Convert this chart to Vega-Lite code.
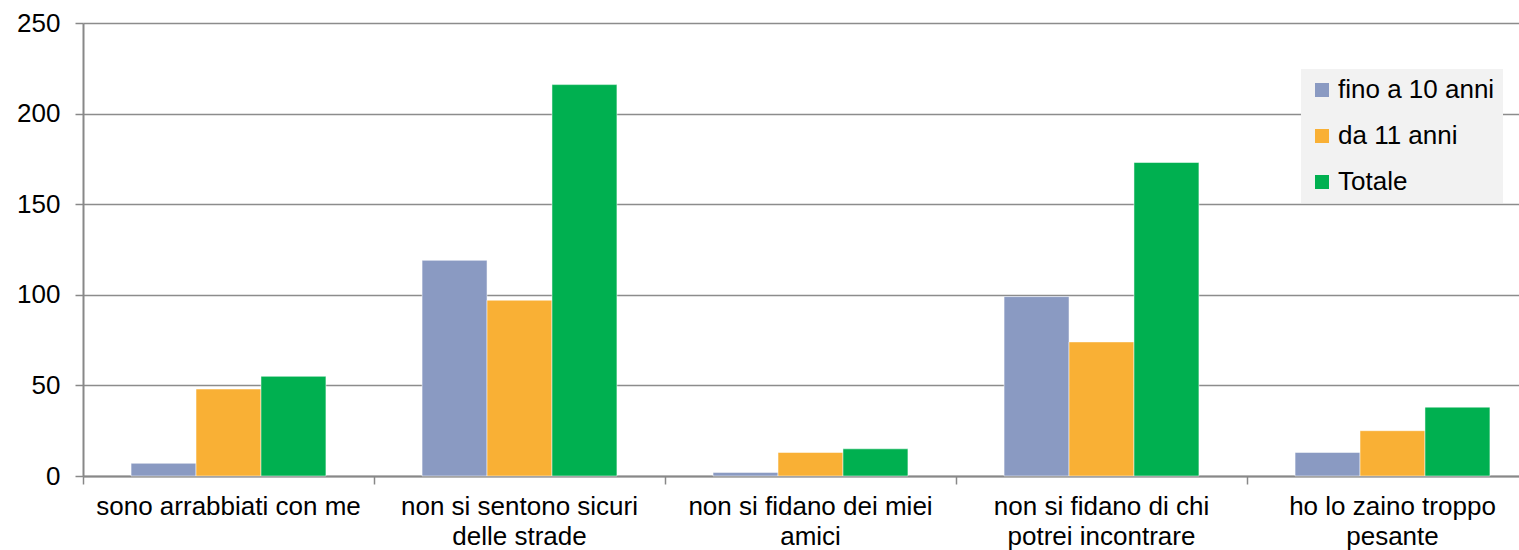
{
  "$schema": "https://vega.github.io/schema/vega-lite/v6.json",
  "autosize": {"type": "none"},
  "width": 1436,
  "height": 453,
  "padding": {"left": 83, "top": 23, "right": 0, "bottom": 74},
  "background": "white",
  "config": {
    "font": "Liberation Sans",
    "view": {"stroke": null}
  },
  "data": {
    "values": [
      {"motivo": "sono arrabbiati con me", "gruppo": "fino a 10 anni", "valore": 7},
      {"motivo": "sono arrabbiati con me", "gruppo": "da 11 anni", "valore": 48},
      {"motivo": "sono arrabbiati con me", "gruppo": "Totale", "valore": 55},
      {"motivo": "non si sentono sicuri delle strade", "gruppo": "fino a 10 anni", "valore": 119},
      {"motivo": "non si sentono sicuri delle strade", "gruppo": "da 11 anni", "valore": 97},
      {"motivo": "non si sentono sicuri delle strade", "gruppo": "Totale", "valore": 216},
      {"motivo": "non si fidano dei miei amici", "gruppo": "fino a 10 anni", "valore": 2},
      {"motivo": "non si fidano dei miei amici", "gruppo": "da 11 anni", "valore": 13},
      {"motivo": "non si fidano dei miei amici", "gruppo": "Totale", "valore": 15},
      {"motivo": "non si fidano di chi potrei incontrare", "gruppo": "fino a 10 anni", "valore": 99},
      {"motivo": "non si fidano di chi potrei incontrare", "gruppo": "da 11 anni", "valore": 74},
      {"motivo": "non si fidano di chi potrei incontrare", "gruppo": "Totale", "valore": 173},
      {"motivo": "ho lo zaino troppo pesante", "gruppo": "fino a 10 anni", "valore": 13},
      {"motivo": "ho lo zaino troppo pesante", "gruppo": "da 11 anni", "valore": 25},
      {"motivo": "ho lo zaino troppo pesante", "gruppo": "Totale", "valore": 38}
    ]
  },
  "mark": {"type": "bar", "stroke": "white", "strokeWidth": 0.5},
  "encoding": {
    "x": {
      "field": "motivo",
      "type": "nominal",
      "sort": null,
      "scale": {"range": [0, 1455], "paddingInner": 0, "paddingOuter": 0},
      "axis": {
        "title": null,
        "labelAngle": 0,
        "labelFontSize": 26,
        "labelColor": "#000000",
        "labelPadding": 9,
        "labelLimit": 400,
        "labelLineHeight": 30,
        "bandPosition": 0,
        "ticks": true,
        "tickSize": 8,
        "tickColor": "#888888",
        "tickWidth": 1.5,
        "domainColor": "#888888",
        "domainWidth": 2,
        "grid": false,
        "labelExpr": "datum.value == 'non si sentono sicuri delle strade' ? ['non si sentono sicuri', 'delle strade'] : datum.value == 'non si fidano dei miei amici' ? ['non si fidano dei miei', 'amici'] : datum.value == 'non si fidano di chi potrei incontrare' ? ['non si fidano di chi', 'potrei incontrare'] : datum.value == 'ho lo zaino troppo pesante' ? ['ho lo zaino troppo', 'pesante'] : datum.value"
      }
    },
    "xOffset": {
      "field": "gruppo",
      "type": "nominal",
      "sort": ["fino a 10 anni", "da 11 anni", "Totale"],
      "scale": {"paddingInner": 0, "paddingOuter": 0.74}
    },
    "y": {
      "field": "valore",
      "type": "quantitative",
      "scale": {"domain": [0, 250], "nice": false},
      "axis": {
        "title": null,
        "values": [0, 50, 100, 150, 200, 250],
        "labelFontSize": 26,
        "labelColor": "#000000",
        "labelPadding": 15,
        "tickSize": 8,
        "tickColor": "#888888",
        "tickWidth": 1.5,
        "domainColor": "#888888",
        "domainWidth": 2,
        "gridColor": "#8c8c8c",
        "gridWidth": 1.5
      }
    },
    "color": {
      "field": "gruppo",
      "type": "nominal",
      "sort": ["fino a 10 anni", "da 11 anni", "Totale"],
      "scale": {
        "domain": ["fino a 10 anni", "da 11 anni", "Totale"],
        "range": ["#8a9ac2", "#f9b035", "#00b050"]
      },
      "legend": {
        "title": null,
        "orient": "none",
        "legendX": 1218,
        "legendY": 46,
        "fillColor": "#f2f2f2",
        "padding": 8,
        "symbolType": "square",
        "symbolSize": 196,
        "symbolStrokeWidth": 0,
        "labelFontSize": 26,
        "labelColor": "#000000",
        "labelOffset": 3,
        "labelLimit": 300,
        "rowPadding": 20
      }
    }
  }
}
